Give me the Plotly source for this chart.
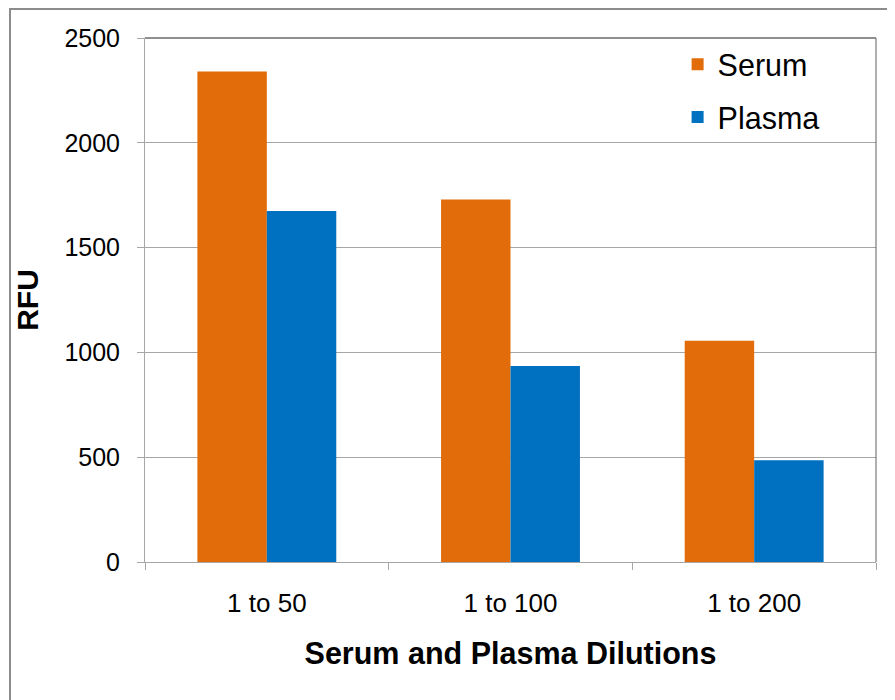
import plotly.graph_objects as go

categories = ["1 to 50", "1 to 100", "1 to 200"]
serum = [2340, 1730, 1055]
plasma = [1675, 935, 485]
y_ticks = [0, 500, 1000, 1500, 2000, 2500]

FONT = "Arial, Liberation Sans, sans-serif"
ORANGE = "#E36C0A"
BLUE = "#0070C0"
GRID = "#A6A6A6"

OFF = 8  # default page body margin
W, H = 895 - OFF, 700 - OFF
PL, PR, PT, PB = 145, 876, 38, 562  # plot area in page pixels
L, T = PL - OFF, PT - OFF
R = W - (PR - OFF)
B = H - (PB - OFF)
pw, ph = PR - PL, PB - PT

fig = go.Figure()
fig.add_trace(go.Bar(name="Serum", x=categories, y=serum, marker=dict(color=ORANGE, line=dict(width=0)), legendgroup="a"))
fig.add_trace(go.Bar(name="Plasma", x=categories, y=plasma, marker=dict(color=BLUE, line=dict(width=0)), legendgroup="b"))

fig.update_layout(
    width=W, height=H,
    margin=dict(l=L, r=R, t=T, b=B, pad=0),
    paper_bgcolor="white", plot_bgcolor="white",
    barmode="group", bargap=0.43, bargroupgap=0,
    font=dict(family=FONT, color="black"),
    legend=dict(x=0.7286, y=1.0, xanchor="left", yanchor="top",
                font=dict(size=30.5, family=FONT), bgcolor="rgba(0,0,0,0)",
                tracegroupgap=10, itemwidth=30),
    xaxis=dict(
        type="category", tickson="boundaries", ticks="outside", ticklen=7,
        tickcolor=GRID, showline=True, linecolor=GRID, linewidth=1,
        showgrid=False, tickfont=dict(size=26, family=FONT),
        ticklabelstandoff=18,
        title=dict(text="<b>Serum and Plasma Dilutions</b>", font=dict(size=30.5, family=FONT), standoff=25),
    ),
    yaxis=dict(
        range=[0, 2500], tickvals=y_ticks, ticks="outside", ticklen=7,
        tickcolor=GRID, showline=True, linecolor=GRID, linewidth=1,
        showgrid=True, gridcolor=GRID, gridwidth=1, zeroline=False,
        tickfont=dict(size=25, family=FONT), ticklabelstandoff=12,
        title=dict(text="<b>RFU</b>", font=dict(size=30, family=FONT), standoff=16),
    ),
    shapes=[
        # outer chart border
        dict(type="rect", xref="paper", yref="paper",
             x0=(10 - PL) / pw, x1=(900 - PL) / pw,
             y0=1 - (705 - PT) / ph, y1=1 + (PT - 9) / ph,
             line=dict(color="#8C8C8C", width=2), layer="below"),
        # plot area top and right frame
        dict(type="line", xref="paper", yref="paper", x0=0, x1=1, y0=1, y1=1,
             line=dict(color="#202020", width=1)),
        dict(type="line", xref="paper", yref="paper", x0=1, x1=1, y0=0, y1=1,
             line=dict(color="#606060", width=1)),
    ],
)

fig.write_html("out.html")
